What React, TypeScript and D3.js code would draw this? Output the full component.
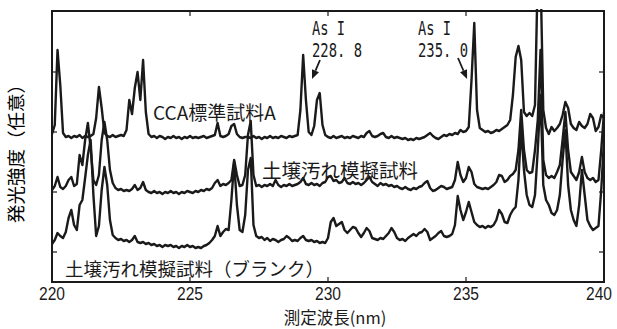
import React from 'react';
import * as d3 from 'd3';

// Spectra sampled every 0.1 nm from 220.0 nm to 240.0 nm (arbitrary intensity units)
const WL_START = 220;
const WL_STEP = 0.1;

const xTicks = [220, 225, 230, 235, 240];
const yTicks = [0, 60, 120, 180];

const ccaStandardA = [
  118,127,202,167,119,115,116,114,116,115,
  117,114,116,115,116,118,134,165,144,119,
  116,115,117,115,116,117,116,122,152,138,
  164,180,152,192,140,118,115,116,114,116,
  115,113,115,114,116,114,115,113,115,114,
  116,114,115,114,115,116,114,115,116,117,
  129,116,115,116,118,126,128,118,115,114,
  115,115,114,116,114,115,113,115,114,116,
  114,115,114,116,115,114,116,115,116,117,
  142,197,152,120,117,126,152,159,127,117,
  115,114,116,114,115,116,114,115,114,116,
  115,114,116,115,119,121,116,115,116,118,
  119,115,114,116,114,115,114,113,114,112,
  113,112,114,113,114,115,117,119,116,114,
  113,115,117,116,118,117,119,118,122,120,
  121,125,172,229,142,124,122,120,121,119,
  120,122,121,123,125,127,132,157,195,206,
  192,140,136,139,136,147,280,280,142,124,
  118,125,121,124,128,137,150,144,128,124,
  122,130,126,124,128,138,134,121,125,137,
  134,
];

const soilSimulated = [
  62,66,75,65,63,66,72,75,66,68,
  97,87,112,129,104,72,67,77,112,130,
  112,82,69,64,62,63,61,62,61,63,
  67,62,64,70,62,60,59,61,59,60,
  58,60,59,61,59,60,58,60,59,61,
  60,59,61,60,62,61,63,62,64,69,
  72,66,68,67,69,72,92,77,66,67,
  77,117,131,77,66,67,65,67,66,68,
  66,72,67,65,67,66,68,66,67,68,
  70,74,68,67,69,67,68,66,69,70,
  75,76,71,72,69,70,74,69,68,70,
  68,69,67,69,72,75,70,68,66,69,
  67,68,66,67,65,66,64,63,65,63,
  62,64,63,65,66,69,71,64,61,62,
  64,66,65,63,64,65,72,90,77,70,
  74,85,80,68,65,64,63,64,63,65,
  67,70,77,76,70,72,76,78,82,102,
  142,102,82,79,80,102,132,202,92,77,
  74,76,74,80,87,112,140,102,80,76,
  72,80,95,80,74,72,74,70,72,102,
  140,
];

const soilBlank = [
  8,12,19,16,14,20,34,42,27,22,
  47,52,74,97,112,57,16,26,62,85,
  67,32,17,14,12,13,11,12,10,12,
  16,10,9,10,8,9,7,8,6,7,
  5,7,6,7,5,6,4,6,5,7,
  5,6,4,5,4,6,7,9,12,16,
  26,16,20,23,22,52,90,47,22,20,
  37,82,94,27,16,14,15,12,14,11,
  13,12,10,12,13,16,14,11,12,11,
  14,16,12,11,12,10,11,9,10,9,
  14,30,34,26,28,30,22,19,22,25,
  24,19,15,19,24,21,14,13,12,14,
  13,16,19,24,20,14,12,13,11,14,
  16,18,16,19,20,23,20,12,14,16,
  19,21,16,15,16,18,27,56,42,32,
  40,50,40,30,27,25,26,24,26,25,
  27,32,42,38,30,29,37,42,45,72,
  124,82,57,47,45,57,102,157,67,52,
  47,39,37,42,57,92,122,67,42,32,
  26,47,82,57,32,26,22,24,26,62,
  112,
];

const seriesNames = ['CCA標準試料A', '土壌汚れ模擬試料', '土壌汚れ模擬試料（ブランク）'];
const xTitle = '測定波長(nm)';
const yTitle = '発光強度（任意）';
const asLines = [
  { name: 'As I', wl: '228. 8', textWl: 229.42, tailWl: 229.71, tailI: 192, tipWl: 229.42, tipI: 173 },
  { name: 'As I', wl: '235. 0', textWl: 233.26, tailWl: 234.71, tailI: 194, tipWl: 235.04, tipI: 173 },
];

const W = 617;
const H = 329;
const M = { left: 52, right: 604, top: 11, bottom: 282 };

const CJK = '"Noto Sans CJK JP", "Noto Sans", sans-serif';
const NUM = '"Liberation Sans", Arial, sans-serif';
const MONO = '"DejaVu Sans Mono", "Liberation Mono", monospace';
const INK = '#1a1a1a';

export default function App() {
  const x = d3.scaleLinear().domain([220, 240]).range([M.left, M.right]);
  const y = d3.scaleLinear().domain([-30, 241]).range([M.bottom, M.top]);
  const line = d3
    .line<number>()
    .x((_, i) => x(WL_START + i * WL_STEP))
    .y((d) => y(d));

  const series = [ccaStandardA, soilSimulated, soilBlank];

  const arrowHead = (a: any) => {
    const x1 = x(a.tailWl), y1 = y(a.tailI), x2 = x(a.tipWl), y2 = y(a.tipI);
    const ang = Math.atan2(y2 - y1, x2 - x1);
    const L = 9, Wd = 3.8;
    const bx = x2 - L * Math.cos(ang), by = y2 - L * Math.sin(ang);
    const px = -Math.sin(ang) * Wd, py = Math.cos(ang) * Wd;
    return {
      shaft: [x1, y1, bx, by],
      head: `${x2},${y2} ${bx + px},${by + py} ${bx - px},${by - py}`,
    };
  };

  return (
    <svg
      width={W}
      height={H}
      style={{ position: 'absolute', left: 0, top: 0, background: '#fff' }}
    >
      <defs>
        <clipPath id="plotClip">
          <rect x={M.left} y={M.top - 2} width={M.right - M.left} height={M.bottom - M.top + 2} />
        </clipPath>
      </defs>
      <rect x={0} y={0} width={W} height={H} fill="#fff" />

      {/* ticks */}
      {xTicks.slice(1, -1).map((t) => (
        <g key={'xt' + t} stroke={INK} strokeWidth={1.2}>
          <line x1={x(t)} x2={x(t)} y1={M.bottom} y2={M.bottom - 5} />
          <line x1={x(t)} x2={x(t)} y1={M.top} y2={M.top + 5} />
        </g>
      ))}
      {yTicks.map((t) => (
        <g key={'yt' + t} stroke={INK} strokeWidth={1.2}>
          <line x1={M.left} x2={M.left + 5} y1={y(t)} y2={y(t)} />
          <line x1={M.right} x2={M.right - 5} y1={y(t)} y2={y(t)} />
        </g>
      ))}

      {/* spectra */}
      <g clipPath="url(#plotClip)">
        {series.map((s, k) => (
          <path
            key={'s' + k}
            d={line(s) || ''}
            fill="none"
            stroke={INK}
            strokeWidth={2.4}
            strokeLinejoin="round"
            strokeLinecap="round"
          />
        ))}
      </g>

      {/* frame */}
      <rect
        x={M.left}
        y={M.top}
        width={M.right - M.left}
        height={M.bottom - M.top}
        fill="none"
        stroke={INK}
        strokeWidth={2}
      />

      {/* x tick labels */}
      {xTicks.map((t, i) => (
        <text
          key={'xl' + t}
          x={i === xTicks.length - 1 ? x(t) - 5 : x(t)}
          y={300}
          textAnchor="middle"
          fontFamily={NUM}
          fontSize={17.5}
          textLength={26}
          lengthAdjust="spacingAndGlyphs"
          fill={INK}
        >
          {t}
        </text>
      ))}

      {/* axis titles */}
      <text x={335} y={324} textAnchor="middle" fontFamily={CJK} fontSize={16.5} fill={INK}>
        {xTitle}
      </text>
      <text
        transform={`translate(15,${149}) rotate(-90)`}
        textAnchor="middle"
        dominantBaseline="central"
        fontFamily={CJK}
        fontSize={18.5}
        fill="#000"
      >
        {yTitle}
      </text>

      {/* series labels */}
      <text x={153} y={120} fontFamily={CJK} fontSize={19} fill={INK}>
        {seriesNames[0]}
      </text>
      <text x={262} y={178} fontFamily={CJK} fontSize={19.5} fill={INK}>
        {seriesNames[1]}
      </text>
      <text x={65} y={276} fontFamily={CJK} fontSize={18.5} fill={INK}>
        {seriesNames[2]}
      </text>

      {/* As I annotations */}
      {asLines.map((a, k) => {
        const ar = arrowHead(a);
        const tx = x(a.textWl);
        return (
          <g key={'as' + k} fill={INK}>
            <text x={tx} y={35} fontFamily={MONO} fontSize={19.5} textLength={33} lengthAdjust="spacingAndGlyphs">
              {a.name}
            </text>
            <text x={tx} y={57} fontFamily={MONO} fontSize={19.5} textLength={50} lengthAdjust="spacingAndGlyphs">
              {a.wl}
            </text>
            <line x1={ar.shaft[0]} y1={ar.shaft[1]} x2={ar.shaft[2]} y2={ar.shaft[3]} stroke={INK} strokeWidth={1.8} />
            <polygon points={ar.head} fill={INK} />
          </g>
        );
      })}
    </svg>
  );
}
